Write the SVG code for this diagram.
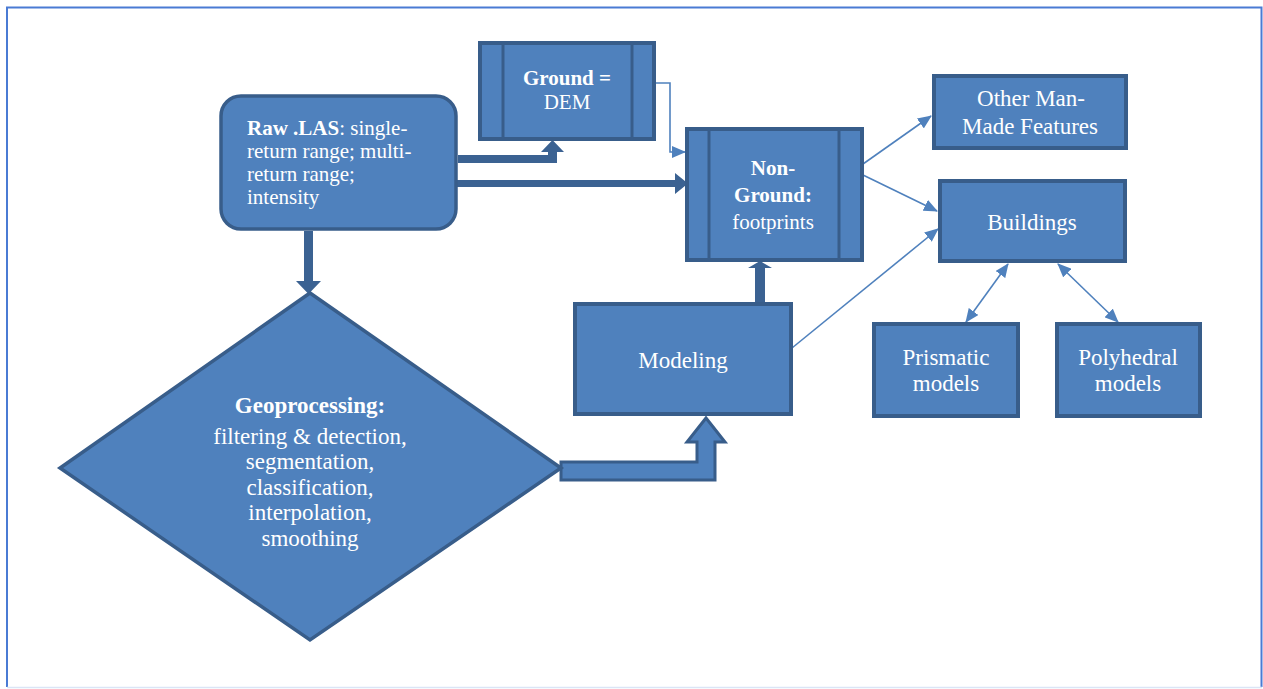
<svg xmlns="http://www.w3.org/2000/svg" width="1263" height="689" viewBox="0 0 1263 689">
<defs>
<style>
.node{fill:#4f81bd;stroke:#385d8a;stroke-width:4}
.inner{stroke:#385d8a;stroke-width:3}
.t{font-family:"Liberation Serif","Times New Roman",serif;font-size:21px;fill:#ffffff}
.l{font-size:23px}
.c{text-anchor:middle}
.b{font-weight:bold}
.blk{fill:#3b6292;stroke:none}
.blko{fill:#4f81bd;stroke:#385d8a;stroke-width:3;stroke-linejoin:miter}
.thin{fill:none;stroke:#4f81bd;stroke-width:1.6}
</style>
<marker id="ah" markerUnits="userSpaceOnUse" markerWidth="14" markerHeight="12" viewBox="0 0 14 12" refX="13" refY="6" orient="auto-start-reverse">
<path d="M0,0 L14,6 L0,12 Z" fill="#4f81bd"/>
</marker>
</defs>
<rect x="0" y="0" width="1263" height="689" fill="#ffffff"/>
<path d="M7,687 L7,7.5 L1261.5,7.5 L1261.5,687" fill="none" stroke="#4a7bd4" stroke-width="2"/>
<line x1="7" y1="687.5" x2="1262" y2="687.5" stroke="#dbe5f6" stroke-width="1.5"/>

<g id="connectors">
<polygon class="blk" points="458,155 548,155 548,152 541,152 552.5,140 564,152 557,152 557,163 458,163"/>
<polygon class="blk" points="457,180 675,180 675,173 688,183.5 675,194 675,187 457,187"/>
<polygon class="blk" points="304,231 313,231 313,281 321,281 308.5,294 296,281 304,281"/>
<polygon class="blko" points="561,462 697,462 697,442 687,442 706,418 725,442 715,442 715,480 561,480"/>
<polygon class="blk" points="755,303 755,268 748,268 760,261 772,268 765,268 765,303"/>
<polyline class="thin" points="655,83 670,83 670,152 685,152" marker-end="url(#ah)"/>
<line class="thin" x1="863" y1="164" x2="931" y2="116" marker-end="url(#ah)"/>
<line class="thin" x1="863" y1="175" x2="937" y2="211" marker-end="url(#ah)"/>
<line class="thin" x1="792" y1="348" x2="938" y2="229" marker-end="url(#ah)"/>
<line class="thin" x1="1008" y1="264" x2="966" y2="322" marker-start="url(#ah)" marker-end="url(#ah)"/>
<line class="thin" x1="1058" y1="264" x2="1118" y2="322" marker-start="url(#ah)" marker-end="url(#ah)"/>
</g>

<g id="raw">
<rect class="node" x="221" y="96" width="235" height="133" rx="20" ry="20" style="stroke-width:3.5"/>
<text class="t" x="247" y="135"><tspan class="b">Raw .LAS</tspan>: single-</text>
<text class="t" x="247" y="158">return range; multi-</text>
<text class="t" x="247" y="181">return range;</text>
<text class="t" x="247" y="204">intensity</text>
</g>

<g id="ground">
<rect class="node" x="480" y="43" width="174" height="96"/>
<line class="inner" x1="503" y1="43" x2="503" y2="139"/>
<line class="inner" x1="632" y1="43" x2="632" y2="139"/>
<text class="t c b" x="567" y="85">Ground =</text>
<text class="t c" x="567" y="109">DEM</text>
</g>

<g id="nonground">
<rect class="node" x="687" y="129" width="175" height="131"/>
<line class="inner" x1="709" y1="129" x2="709" y2="260"/>
<line class="inner" x1="839" y1="129" x2="839" y2="260"/>
<text class="t c b" x="773" y="175">Non-</text>
<text class="t c b" x="773" y="202">Ground:</text>
<text class="t c" x="773" y="229">footprints</text>
</g>

<g id="other">
<rect class="node" x="934" y="76" width="192" height="72"/>
<text class="t l c" x="1031" y="106">Other Man-</text>
<text class="t l c" x="1030" y="134">Made Features</text>
</g>

<g id="buildings">
<rect class="node" x="940" y="181" width="185" height="80"/>
<text class="t l c" x="1032" y="230">Buildings</text>
</g>

<g id="modeling">
<rect class="node" x="575" y="304" width="216" height="110"/>
<text class="t l c" x="683" y="368">Modeling</text>
</g>

<g id="prismatic">
<rect class="node" x="874" y="324" width="144" height="92"/>
<text class="t l c" x="946" y="365">Prismatic</text>
<text class="t l c" x="946" y="391">models</text>
</g>

<g id="polyhedral">
<rect class="node" x="1057" y="324" width="143" height="92"/>
<text class="t l c" x="1128" y="365">Polyhedral</text>
<text class="t l c" x="1128" y="391">models</text>
</g>

<g id="geoprocessing">
<polygon class="node" points="310,293 561,468 310,640 60,468" style="stroke-width:3.5"/>
<text class="t l c b" x="310" y="413">Geoprocessing:</text>
<text class="t l c" x="310" y="444">filtering &amp; detection,</text>
<text class="t l c" x="310" y="469">segmentation,</text>
<text class="t l c" x="310" y="495">classification,</text>
<text class="t l c" x="310" y="520">interpolation,</text>
<text class="t l c" x="310" y="546">smoothing</text>
</g>
</svg>
